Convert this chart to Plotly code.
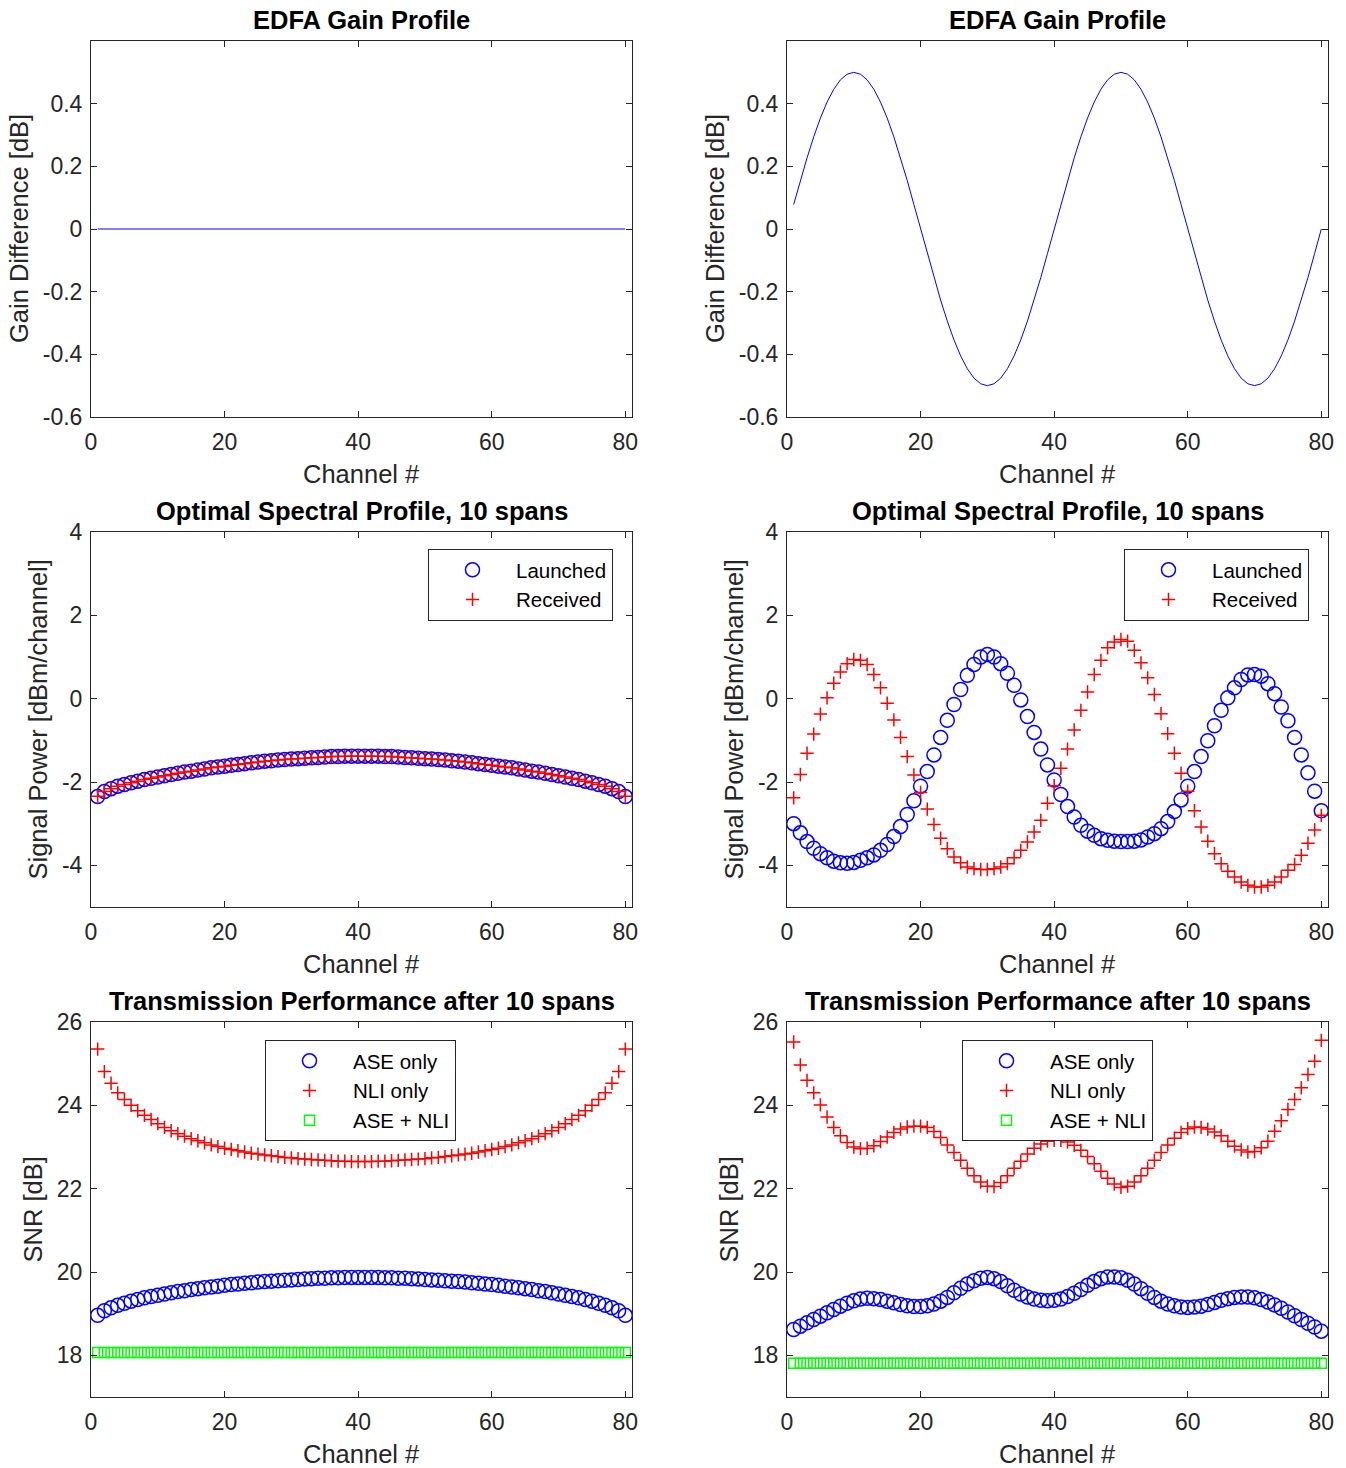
import plotly.graph_objects as go

# ---------------- data ----------------
channels = list(range(1, 81))

gain_flat = [
    0, 0, 0, 0, 0, 0, 0, 0, 0, 0, 0, 0, 0, 0, 0, 0, 0, 0, 0, 0,
    0, 0, 0, 0, 0, 0, 0, 0, 0, 0, 0, 0, 0, 0, 0, 0, 0, 0, 0, 0,
    0, 0, 0, 0, 0, 0, 0, 0, 0, 0, 0, 0, 0, 0, 0, 0, 0, 0, 0, 0,
    0, 0, 0, 0, 0, 0, 0, 0, 0, 0, 0, 0, 0, 0, 0, 0, 0, 0, 0, 0,
]
gain_ripple = [
    0.078, 0.155, 0.227, 0.294, 0.354, 0.405, 0.446, 0.476, 0.494, 0.500,
    0.494, 0.476, 0.446, 0.405, 0.354, 0.294, 0.227, 0.155, 0.078, 0.000,
    -0.078, -0.155, -0.227, -0.294, -0.354, -0.405, -0.446, -0.476, -0.494, -0.500,
    -0.494, -0.476, -0.446, -0.405, -0.354, -0.294, -0.227, -0.155, -0.078, 0.000,
    0.078, 0.155, 0.227, 0.294, 0.354, 0.405, 0.446, 0.476, 0.494, 0.500,
    0.494, 0.476, 0.446, 0.405, 0.354, 0.294, 0.227, 0.155, 0.078, 0.000,
    -0.078, -0.155, -0.227, -0.294, -0.354, -0.405, -0.446, -0.476, -0.494, -0.500,
    -0.494, -0.476, -0.446, -0.405, -0.354, -0.294, -0.227, -0.155, -0.078, 0.000,
]

launched_flat = [
    -2.35, -2.23, -2.16, -2.10, -2.06, -2.02, -1.98, -1.94, -1.91, -1.88,
    -1.85, -1.82, -1.79, -1.76, -1.74, -1.71, -1.69, -1.66, -1.64, -1.62,
    -1.60, -1.58, -1.56, -1.54, -1.52, -1.50, -1.49, -1.47, -1.46, -1.45,
    -1.44, -1.43, -1.42, -1.41, -1.40, -1.39, -1.39, -1.38, -1.38, -1.38,
    -1.38, -1.38, -1.38, -1.39, -1.39, -1.40, -1.41, -1.42, -1.43, -1.44,
    -1.45, -1.46, -1.47, -1.49, -1.50, -1.52, -1.54, -1.56, -1.58, -1.60,
    -1.62, -1.64, -1.66, -1.69, -1.71, -1.74, -1.76, -1.79, -1.82, -1.85,
    -1.88, -1.91, -1.94, -1.98, -2.02, -2.06, -2.10, -2.16, -2.23, -2.35,
]
received_flat = [
    -2.34, -2.23, -2.16, -2.10, -2.06, -2.02, -1.98, -1.94, -1.91, -1.88,
    -1.85, -1.82, -1.79, -1.76, -1.74, -1.71, -1.69, -1.66, -1.64, -1.62,
    -1.60, -1.58, -1.56, -1.54, -1.52, -1.50, -1.49, -1.47, -1.46, -1.45,
    -1.44, -1.43, -1.42, -1.41, -1.40, -1.39, -1.39, -1.38, -1.38, -1.38,
    -1.38, -1.38, -1.38, -1.39, -1.39, -1.40, -1.41, -1.42, -1.43, -1.44,
    -1.45, -1.46, -1.47, -1.49, -1.50, -1.52, -1.54, -1.56, -1.58, -1.60,
    -1.62, -1.64, -1.66, -1.69, -1.71, -1.74, -1.76, -1.79, -1.82, -1.85,
    -1.88, -1.91, -1.94, -1.98, -2.02, -2.06, -2.10, -2.16, -2.23, -2.34,
]

launched_ripple = [
    -3.00, -3.22, -3.43, -3.59, -3.72, -3.82, -3.90, -3.94, -3.95, -3.93,
    -3.88, -3.82, -3.75, -3.64, -3.50, -3.31, -3.07, -2.78, -2.45, -2.10,
    -1.75, -1.35, -0.93, -0.52, -0.14, 0.22, 0.56, 0.82, 1.00, 1.06,
    1.00, 0.84, 0.61, 0.32, -0.03, -0.43, -0.81, -1.21, -1.59, -1.95,
    -2.30, -2.59, -2.84, -3.04, -3.18, -3.28, -3.36, -3.40, -3.42, -3.43,
    -3.43, -3.42, -3.39, -3.32, -3.24, -3.12, -2.95, -2.71, -2.43, -2.10,
    -1.75, -1.39, -1.01, -0.65, -0.28, 0.02, 0.26, 0.46, 0.57, 0.58,
    0.54, 0.36, 0.12, -0.20, -0.53, -0.93, -1.35, -1.78, -2.22, -2.69,
]
received_ripple = [
    -2.38, -1.82, -1.31, -0.85, -0.37, 0.02, 0.37, 0.64, 0.84, 0.94,
    0.92, 0.82, 0.58, 0.26, -0.11, -0.51, -0.93, -1.39, -1.83, -2.25,
    -2.65, -3.02, -3.35, -3.60, -3.80, -3.94, -4.04, -4.08, -4.10, -4.10,
    -4.08, -4.04, -3.96, -3.82, -3.64, -3.44, -3.20, -2.92, -2.51, -2.09,
    -1.67, -1.21, -0.75, -0.28, 0.16, 0.58, 0.92, 1.22, 1.36, 1.42,
    1.38, 1.16, 0.86, 0.50, 0.10, -0.36, -0.84, -1.31, -1.79, -2.22,
    -2.69, -3.08, -3.42, -3.72, -3.96, -4.14, -4.28, -4.40, -4.48, -4.52,
    -4.52, -4.48, -4.40, -4.28, -4.12, -3.98, -3.76, -3.47, -3.15, -2.80,
]

ase_flat = [
    18.96, 19.07, 19.14, 19.20, 19.25, 19.30, 19.34, 19.38, 19.41, 19.44,
    19.47, 19.50, 19.53, 19.55, 19.58, 19.60, 19.62, 19.64, 19.66, 19.68,
    19.70, 19.71, 19.73, 19.74, 19.76, 19.77, 19.78, 19.79, 19.80, 19.81,
    19.82, 19.83, 19.84, 19.85, 19.85, 19.86, 19.86, 19.87, 19.87, 19.87,
    19.87, 19.87, 19.87, 19.86, 19.86, 19.85, 19.85, 19.84, 19.83, 19.82,
    19.81, 19.80, 19.79, 19.78, 19.77, 19.76, 19.74, 19.73, 19.71, 19.70,
    19.68, 19.66, 19.64, 19.62, 19.60, 19.58, 19.55, 19.53, 19.50, 19.47,
    19.44, 19.41, 19.38, 19.34, 19.30, 19.25, 19.20, 19.14, 19.07, 18.96,
]
nli_flat = [
    25.35, 24.81, 24.53, 24.30, 24.14, 24.00, 23.87, 23.76, 23.66, 23.56,
    23.47, 23.39, 23.32, 23.26, 23.20, 23.15, 23.10, 23.05, 23.01, 22.97,
    22.94, 22.91, 22.88, 22.85, 22.83, 22.81, 22.79, 22.77, 22.75, 22.74,
    22.72, 22.71, 22.70, 22.69, 22.68, 22.67, 22.66, 22.66, 22.65, 22.65,
    22.65, 22.65, 22.66, 22.66, 22.67, 22.68, 22.69, 22.70, 22.71, 22.72,
    22.74, 22.75, 22.77, 22.79, 22.81, 22.83, 22.85, 22.88, 22.91, 22.94,
    22.97, 23.01, 23.05, 23.10, 23.15, 23.20, 23.26, 23.32, 23.39, 23.47,
    23.56, 23.66, 23.76, 23.87, 24.00, 24.14, 24.30, 24.53, 24.81, 25.35,
]
total_flat = [
    18.07, 18.07, 18.07, 18.07, 18.07, 18.07, 18.07, 18.07, 18.07, 18.07,
    18.07, 18.07, 18.07, 18.07, 18.07, 18.07, 18.07, 18.07, 18.07, 18.07,
    18.07, 18.07, 18.07, 18.07, 18.07, 18.07, 18.07, 18.07, 18.07, 18.07,
    18.07, 18.07, 18.07, 18.07, 18.07, 18.07, 18.07, 18.07, 18.07, 18.07,
    18.07, 18.07, 18.07, 18.07, 18.07, 18.07, 18.07, 18.07, 18.07, 18.07,
    18.07, 18.07, 18.07, 18.07, 18.07, 18.07, 18.07, 18.07, 18.07, 18.07,
    18.07, 18.07, 18.07, 18.07, 18.07, 18.07, 18.07, 18.07, 18.07, 18.07,
    18.07, 18.07, 18.07, 18.07, 18.07, 18.07, 18.07, 18.07, 18.07, 18.07,
]

ase_ripple = [
    18.62, 18.70, 18.78, 18.86, 18.94, 19.02, 19.10, 19.18, 19.25, 19.31,
    19.35, 19.37, 19.36, 19.34, 19.30, 19.26, 19.22, 19.19, 19.17, 19.17,
    19.19, 19.23, 19.30, 19.39, 19.50, 19.61, 19.71, 19.79, 19.85, 19.87,
    19.84, 19.77, 19.67, 19.56, 19.47, 19.40, 19.35, 19.32, 19.31, 19.32,
    19.35, 19.41, 19.49, 19.58, 19.68, 19.77, 19.84, 19.88, 19.88, 19.86,
    19.80, 19.71, 19.60, 19.49, 19.39, 19.30, 19.23, 19.19, 19.16, 19.15,
    19.16, 19.18, 19.22, 19.27, 19.32, 19.36, 19.39, 19.40, 19.40, 19.38,
    19.34, 19.28, 19.21, 19.13, 19.04, 18.95, 18.86, 18.77, 18.68, 18.58,
]
nli_ripple = [
    25.52, 24.97, 24.60, 24.30, 24.01, 23.72, 23.47, 23.27, 23.11, 23.00,
    22.96, 22.97, 23.03, 23.13, 23.24, 23.35, 23.43, 23.48, 23.50, 23.50,
    23.47, 23.37, 23.23, 23.05, 22.87, 22.68, 22.49, 22.31, 22.16, 22.06,
    22.05, 22.15, 22.31, 22.49, 22.66, 22.83, 22.97, 23.07, 23.14, 23.16,
    23.16, 23.12, 23.04, 22.92, 22.77, 22.60, 22.42, 22.25, 22.11, 22.03,
    22.06, 22.16, 22.31, 22.49, 22.68, 22.87, 23.05, 23.21, 23.35, 23.44,
    23.48, 23.47, 23.43, 23.36, 23.27, 23.14, 23.02, 22.93, 22.88, 22.89,
    22.98, 23.14, 23.38, 23.63, 23.90, 24.14, 24.42, 24.74, 25.06, 25.56,
]
total_ripple = [
    17.81, 17.81, 17.81, 17.81, 17.81, 17.81, 17.81, 17.81, 17.81, 17.81,
    17.81, 17.81, 17.81, 17.81, 17.81, 17.81, 17.81, 17.81, 17.81, 17.81,
    17.81, 17.81, 17.81, 17.81, 17.81, 17.81, 17.81, 17.81, 17.81, 17.81,
    17.81, 17.81, 17.81, 17.81, 17.81, 17.81, 17.81, 17.81, 17.81, 17.81,
    17.81, 17.81, 17.81, 17.81, 17.81, 17.81, 17.81, 17.81, 17.81, 17.81,
    17.81, 17.81, 17.81, 17.81, 17.81, 17.81, 17.81, 17.81, 17.81, 17.81,
    17.81, 17.81, 17.81, 17.81, 17.81, 17.81, 17.81, 17.81, 17.81, 17.81,
    17.81, 17.81, 17.81, 17.81, 17.81, 17.81, 17.81, 17.81, 17.81, 17.81,
]

x_ticks = [0, 20, 40, 60, 80]
gain_ticks = [-0.6, -0.4, -0.2, 0, 0.2, 0.4]
gain_ticktext = ["-0.6", "-0.4", "-0.2", "0", "0.2", "0.4"]
power_ticks = [-4, -2, 0, 2, 4]
power_ticktext = ["-4", "-2", "0", "2", "4"]
snr_ticks = [18, 20, 22, 24, 26]
snr_ticktext = ["18", "20", "22", "24", "26"]

titles_row = ["EDFA Gain Profile", "Optimal Spectral Profile, 10 spans",
              "Transmission Performance after 10 spans"]
ylabels_row = ["Gain Difference [dB]", "Signal Power [dBm/channel]", "SNR [dB]"]
xlabel = "Channel #"

# ---------------- layout geometry ----------------
W, H = 1346, 1468
FONT = "Liberation Sans, Arial, Helvetica, sans-serif"
AX = "#262626"
BLUE, RED, GREEN = "#0000FF", "#FF0000", "#00FF00"

col_px = [(91, 632), (787, 1328)]
row_px = [(41, 417), (532, 907), (1022, 1397)]


def xdom(c):
    return [col_px[c][0] / W, col_px[c][1] / W]


def ydom(r):
    return [1 - row_px[r][1] / H, 1 - row_px[r][0] / H]


fig = go.Figure()

circle = dict(symbol="circle-open", size=14, color=BLUE, line=dict(width=1.5, color=BLUE))
plus = dict(symbol="cross-thin-open", size=9.5, color=RED, line=dict(width=1.5, color=RED))
square = dict(symbol="square-open", size=10, color=GREEN, line=dict(width=1.5, color=GREEN))

# row 1
fig.add_trace(go.Scatter(x=channels, y=gain_flat, mode="lines", line=dict(color=BLUE, width=1),
                         xaxis="x", yaxis="y", showlegend=False))
fig.add_trace(go.Scatter(x=channels, y=gain_ripple, mode="lines", line=dict(color=BLUE, width=1),
                         xaxis="x2", yaxis="y2", showlegend=False))
# row 2
fig.add_trace(go.Scatter(x=channels, y=launched_flat, mode="markers", marker=circle, name="Launched",
                         xaxis="x3", yaxis="y3", legend="legend"))
fig.add_trace(go.Scatter(x=channels, y=received_flat, mode="markers", marker=plus, name="Received",
                         xaxis="x3", yaxis="y3", legend="legend"))
fig.add_trace(go.Scatter(x=channels, y=launched_ripple, mode="markers", marker=circle, name="Launched",
                         xaxis="x4", yaxis="y4", legend="legend2"))
fig.add_trace(go.Scatter(x=channels, y=received_ripple, mode="markers", marker=plus, name="Received",
                         xaxis="x4", yaxis="y4", legend="legend2"))
# row 3
fig.add_trace(go.Scatter(x=channels, y=ase_flat, mode="markers", marker=circle, name="ASE only",
                         xaxis="x5", yaxis="y5", legend="legend3"))
fig.add_trace(go.Scatter(x=channels, y=nli_flat, mode="markers", marker=plus, name="NLI only",
                         xaxis="x5", yaxis="y5", legend="legend3"))
fig.add_trace(go.Scatter(x=channels, y=total_flat, mode="markers", marker=square, name="ASE + NLI",
                         xaxis="x5", yaxis="y5", legend="legend3"))
fig.add_trace(go.Scatter(x=channels, y=ase_ripple, mode="markers", marker=circle, name="ASE only",
                         xaxis="x6", yaxis="y6", legend="legend4"))
fig.add_trace(go.Scatter(x=channels, y=nli_ripple, mode="markers", marker=plus, name="NLI only",
                         xaxis="x6", yaxis="y6", legend="legend4"))
fig.add_trace(go.Scatter(x=channels, y=total_ripple, mode="markers", marker=square, name="ASE + NLI",
                         xaxis="x6", yaxis="y6", legend="legend4"))

common = dict(showline=True, linecolor=AX, linewidth=1, mirror="ticks", ticks="inside",
              ticklen=6, tickwidth=1, tickcolor=AX, showgrid=False, zeroline=False,
              automargin=False,
              tickfont=dict(family=FONT, size=23, color=AX), fixedrange=True)

layout = dict(width=W, height=H, margin=dict(l=0, r=0, t=0, b=0, pad=0, autoexpand=False),
              paper_bgcolor="white", plot_bgcolor="white",
              font=dict(family=FONT, color=AX), annotations=[])

yinfo = [(gain_ticks, gain_ticktext, [-0.6, 0.6]),
         (power_ticks, power_ticktext, [-5, 4]),
         (snr_ticks, snr_ticktext, [17, 26])]

idx = 0
for r in range(3):
    for c in range(2):
        idx += 1
        xn = "xaxis" if idx == 1 else f"xaxis{idx}"
        yn = "yaxis" if idx == 1 else f"yaxis{idx}"
        xa = "x" if idx == 1 else f"x{idx}"
        ya = "y" if idx == 1 else f"y{idx}"
        layout[xn] = dict(common, domain=xdom(c), range=[0, 81], tickvals=x_ticks,
                          anchor=ya, ticklabelstandoff=4)
        tv, tt, rg = yinfo[r]
        layout[yn] = dict(common, domain=ydom(r), range=rg, tickvals=tv, ticktext=tt,
                          anchor=xa, ticklabelstandoff=3)
        cx = (col_px[c][0] + col_px[c][1]) / 2 / W
        # title
        layout["annotations"].append(dict(
            text=titles_row[r], x=cx, y=1 - (row_px[r][0] - 21) / H, xref="paper", yref="paper",
            xanchor="center", yanchor="middle", showarrow=False,
            font=dict(family=FONT, size=25.5, color="black", weight="bold")))
        # x label
        layout["annotations"].append(dict(
            text=xlabel, x=cx, y=1 - (row_px[r][1] + 57) / H, xref="paper", yref="paper",
            xanchor="center", yanchor="middle", showarrow=False,
            font=dict(family=FONT, size=25.5, color=AX)))
        # y label
        ylab_off = [72, 54, 59][r]
        layout["annotations"].append(dict(
            text=ylabels_row[r], x=(col_px[c][0] - ylab_off) / W,
            y=1 - (row_px[r][0] + row_px[r][1]) / 2 / H, xref="paper", yref="paper",
            xanchor="center", yanchor="middle", textangle=-90, showarrow=False,
            font=dict(family=FONT, size=25.5, color=AX)))

leg_common = dict(xanchor="left", yanchor="top", bordercolor=AX, borderwidth=1,
                  bgcolor="white", font=dict(family=FONT, size=20.5, color="black"),
                  itemwidth=77, tracegroupgap=0)
layout["legend"] = dict(leg_common, x=428 / W, y=1 - 549 / H)
layout["legend2"] = dict(leg_common, x=1124 / W, y=1 - 549 / H)
layout["legend3"] = dict(leg_common, x=265 / W, y=1 - 1040 / H)
layout["legend4"] = dict(leg_common, x=962 / W, y=1 - 1040 / H)

fig.update_layout(**layout)
fig.write_html("out.html")
